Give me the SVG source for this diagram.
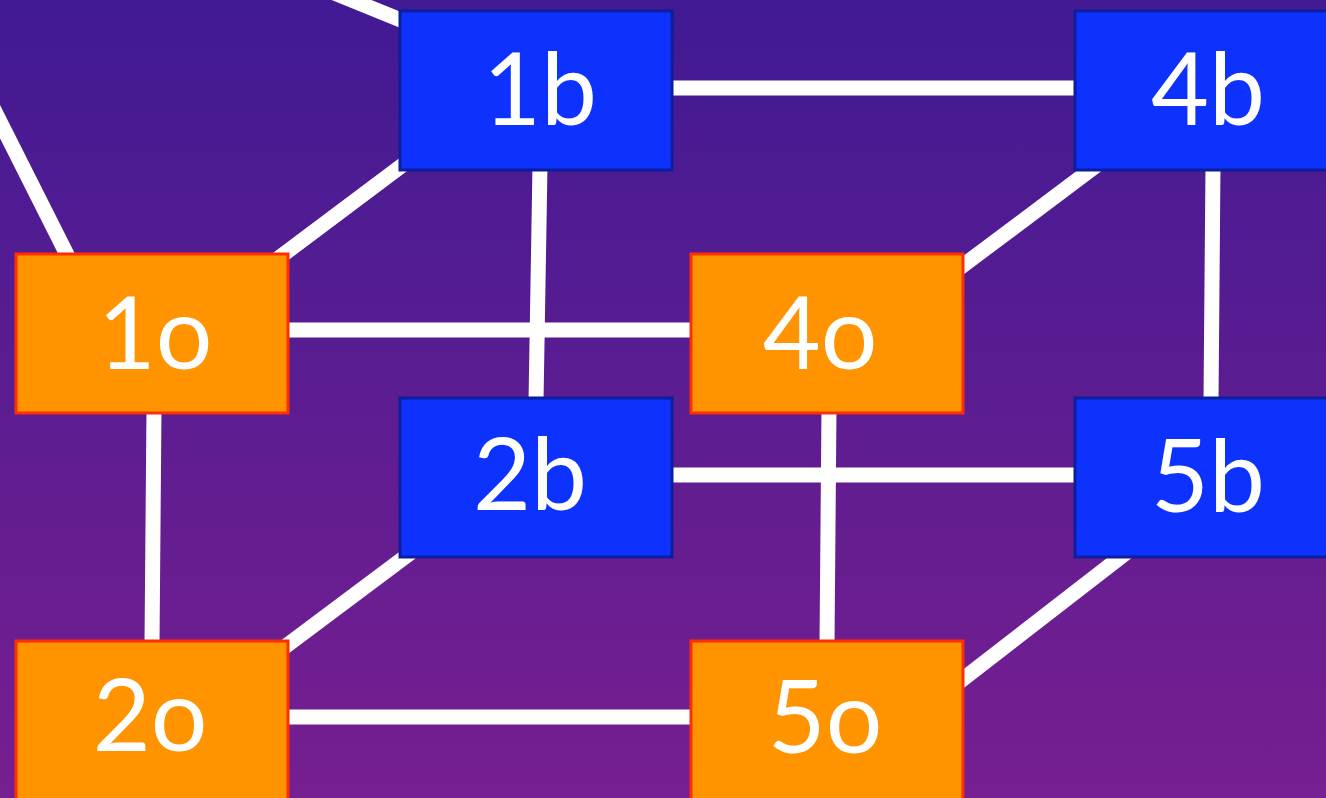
<svg xmlns="http://www.w3.org/2000/svg" width="1326" height="798" viewBox="0 0 1326 798">
<defs>
<linearGradient id="bg" x1="0" y1="0" x2="0" y2="1">
<stop offset="0" stop-color="#411a93"/>
<stop offset="1" stop-color="#771f90"/>
</linearGradient>
</defs>
<style>
.e{stroke:#ffffff;stroke-width:15;fill:none}
.b{fill:#0e32fe;stroke:#0b1f9e;stroke-width:3}
.o{fill:#ff9400;stroke:#ff2e00;stroke-width:3}
.t{fill:#ffffff;font-family:Lato,"Open Sans",sans-serif;font-size:100px;text-anchor:middle}
</style>
<rect width="1326" height="798" fill="url(#bg)"/>
<g id="connectors">
<line class="e" x1="-30" y1="62" x2="110" y2="340"/>
<line class="e" x1="290" y1="-25" x2="450" y2="40"/>
<line class="e" x1="672" y1="88" x2="1075" y2="88"/>
<line class="e" x1="288" y1="330" x2="690" y2="330"/>
<line class="e" x1="672" y1="475" x2="1075" y2="475"/>
<line class="e" x1="288" y1="717" x2="690" y2="717"/>
<line class="e" x1="540" y1="165" x2="536" y2="402"/>
<line class="e" x1="1213" y1="165" x2="1211" y2="402"/>
<line class="e" x1="154" y1="408" x2="152" y2="645"/>
<line class="e" x1="829" y1="408" x2="827" y2="645"/>
<line class="e" x1="260" y1="272" x2="420" y2="152"/>
<line class="e" x1="945" y1="279" x2="1105" y2="159"/>
<line class="e" x1="270" y1="658" x2="425" y2="542"/>
<line class="e" x1="945" y1="693" x2="1140" y2="542"/>
</g>
<g id="n1b"><rect class="b" x="400" y="11" width="272" height="159"/><text class="t" x="540" y="125">1b</text></g>
<g id="n4b"><rect class="b" x="1075" y="11" width="272" height="159"/><text class="t" x="1208" y="125">4b</text></g>
<g id="n1o"><rect class="o" x="16" y="254" width="272" height="159"/><text class="t" x="155" y="369">1o</text></g>
<g id="n4o"><rect class="o" x="691" y="254" width="272" height="159"/><text class="t" x="820" y="369">4o</text></g>
<g id="n2b"><rect class="b" x="400" y="398" width="272" height="159"/><text class="t" x="530" y="510">2b</text></g>
<g id="n5b"><rect class="b" x="1075" y="398" width="272" height="159"/><text class="t" x="1208" y="512">5b</text></g>
<g id="n2o"><rect class="o" x="16" y="641" width="272" height="170"/><text class="t" x="150" y="751">2o</text></g>
<g id="n5o"><rect class="o" x="691" y="641" width="272" height="170"/><text class="t" x="825" y="753">5o</text></g>
</svg>
